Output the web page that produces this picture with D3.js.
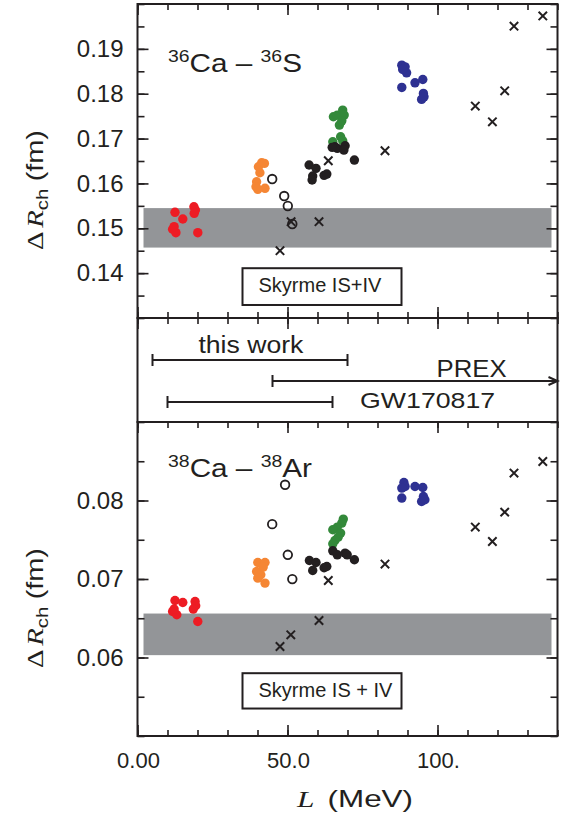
<!DOCTYPE html>
<html>
<head>
<meta charset="utf-8">
<script src="https://cdn.jsdelivr.net/npm/d3@7"></script>
<style>
  body { margin: 0; background: #fff; }
  svg { display: block; }
</style>
</head>
<body>
<div id="chart"></div>
<script>
// ---- data : [L (MeV), dRch (fm)] ----
// 36Ca - 36S
const ca36Red    = [[12.5,0.15356],[15.1,0.15207],[18.8,0.15481],[19.3,0.15408],[18.9,0.15334],[11.7,0.14978],[12.8,0.14902],[12.2,0.15036],[20.1,0.14902]];
const ca36Orange = [[41.4,0.16461],[40.3,0.16372],[42.3,0.16447],[40.8,0.16238],[39.7,0.16038],[39.5,0.15927],[42.5,0.15891],[40.1,0.15869]];
const ca36Open   = [[44.9,0.16098],[48.9,0.15719],[50.1,0.15497],[51.6,0.15096]];
const ca36Cross  = [[47.5,0.14501],[51.2,0.15147],[60.5,0.15147],[63.6,0.16506],[82.5,0.16728],[112.6,0.17724],[118.3,0.17374],[122.4,0.18065],[125.5,0.19506],[135.1,0.19735]];
const ca36Black  = [[57.2,0.16410],[59.5,0.16336],[58.4,0.16165],[58.2,0.16076],[62.2,0.16180],[63.1,0.16209],[65.8,0.16817],[66.6,0.16782],[69.2,0.16840],[68.8,0.16744],[64.9,0.16804],[72.3,0.16521]];
const ca36Green  = [[65.3,0.17486],[66.6,0.17523],[68.4,0.17635],[68.9,0.17523],[67.3,0.17301],[68.1,0.17396],[65.1,0.16929],[67.7,0.17040],[68.4,0.16951]];
const ca36Blue   = [[88.1,0.18637],[89.2,0.18599],[89.7,0.18465],[88.4,0.18541],[88.1,0.18140],[92.5,0.18243],[95.1,0.18318],[95.3,0.18007],[94.7,0.17873],[95.5,0.17931]];

// 38Ca - 38Ar
const ca38Red    = [[12.5,0.06726],[15.1,0.06701],[19.2,0.06713],[19.4,0.06659],[18.6,0.06617],[11.7,0.06586],[13.1,0.06544],[12.2,0.06617],[20.1,0.06459]];
const ca38Orange = [[40.1,0.07210],[42.5,0.07210],[41.9,0.07152],[39.7,0.07096],[41.1,0.07054],[40.1,0.07011],[42.5,0.06948]];
const ca38Open   = [[49.2,0.08200],[44.9,0.07699],[50.1,0.07308],[51.6,0.06999]];
const ca38Cross  = [[47.5,0.06140],[51.1,0.06289],[60.5,0.06471],[63.6,0.06981],[82.5,0.07190],[112.6,0.07661],[118.3,0.07478],[122.4,0.07852],[125.5,0.08349],[135.1,0.08497]];
const ca38Black  = [[57.3,0.07236],[59.5,0.07210],[58.4,0.07108],[62.2,0.07143],[63.1,0.07159],[65.1,0.07359],[66.6,0.07308],[69.2,0.07330],[69.9,0.07308],[72.3,0.07245]];
const ca38Green  = [[68.6,0.07763],[68.1,0.07712],[66.6,0.07661],[65.1,0.07627],[67.7,0.07585],[66.9,0.07534],[65.8,0.07490],[65.1,0.07448]];
const ca38Blue   = [[88.8,0.08229],[89.2,0.08178],[88.1,0.08158],[92.5,0.08178],[95.1,0.08166],[88.1,0.08031],[95.3,0.08051],[94.7,0.07987],[95.8,0.08009]];

// Skyrme IS+IV band [low, high] and L extent
const bandL   = [2, 138];
const bandTop = [0.1457, 0.1545];
const bandBot = [0.0603, 0.0656];

// L constraints (middle panel)
const constraintNames = ["this work", "PREX", "GW170817"];
const constraintRange = [[5, 70], [45, 140], [10, 65]];

const xTickValues = [0, 50, 100];
const xTickLabels = ["0.00", "50.0", "100."];
const yTopTicks = [0.14, 0.15, 0.16, 0.17, 0.18, 0.19];
const yBotTicks = [0.06, 0.07, 0.08];

const colors = { red: "#ed1c24", orange: "#f58634", green: "#33893a", blue: "#2e3192", black: "#231f20" };
const ink = "#231f20";
const sans = "'Liberation Sans', Arial, Helvetica, sans-serif";
const serif = "'Liberation Serif', 'Times New Roman', serif";

// ---- layout ----
const width = 565, height = 824;
const x = d3.scaleLinear().domain([0, 140]).range([137.5, 557.5]);
const yTop = d3.scaleLinear().domain([0.13, 0.20]).range([318, 4]);
const yBot = d3.scaleLinear().domain([0.05, 0.09]).range([736, 422]);
const rows = d3.scalePoint().domain(constraintNames).range([360, 402]);

const svg = d3.select("#chart").append("svg")
    .attr("width", width)
    .attr("height", height)
    .style("font-family", sans);

// grey bands
function band(y, range) {
    svg.append("rect")
        .attr("x", x(bandL[0]))
        .attr("width", x(bandL[1]) - x(bandL[0]))
        .attr("y", y(range[1]))
        .attr("height", y(range[0]) - y(range[1]))
        .attr("fill", "#939598");
}
band(yTop, bandTop);
band(yBot, bandBot);

// ticks helpers
function xTicks(yPos, dir) {
    const mk = dir > 0 ? d3.axisBottom : d3.axisTop;
    [[d3.range(0, 141, 10), 6], [xTickValues, 11]].forEach(([vals, len]) => {
        svg.append("g")
            .attr("transform", `translate(0,${yPos})`)
            .call(mk(x).tickValues(vals).tickSize(len).tickFormat(""))
            .call(g => g.select(".domain").remove())
            .call(g => g.selectAll("line").attr("stroke", ink).attr("stroke-width", 1.6));
    });
}
function yTicks(y, major) {
    const lo = y.domain()[0], hi = y.domain()[1];
    const minor = d3.range(Math.round(lo * 1000), Math.round(hi * 1000) + 1, 5).map(d => d / 1000);
    [[minor, 7], [major, 11]].forEach(([vals, len]) => {
        svg.append("g")
            .attr("transform", `translate(${x(0)},0)`)
            .call(d3.axisRight(y).tickValues(vals).tickSize(len).tickFormat(""))
            .call(g => g.select(".domain").remove())
            .call(g => g.selectAll("line").attr("stroke", ink).attr("stroke-width", 1.6));
        svg.append("g")
            .attr("transform", `translate(${x(140)},0)`)
            .call(d3.axisLeft(y).tickValues(vals).tickSize(len).tickFormat(""))
            .call(g => g.select(".domain").remove())
            .call(g => g.selectAll("line").attr("stroke", ink).attr("stroke-width", 1.6));
    });
    // labels
    svg.append("g")
        .attr("transform", `translate(${x(0)},0)`)
        .call(d3.axisLeft(y).tickValues(major).tickSize(0).tickPadding(14).tickFormat(d3.format(".2f")))
        .call(g => g.select(".domain").remove())
        .call(g => g.selectAll("text").attr("font-family", sans).attr("font-size", 24).attr("fill", ink));
}

xTicks(yTop.range()[1], 1);
xTicks(yTop.range()[0], -1);
xTicks(yTop.range()[0], 1);
xTicks(yBot.range()[1], 1);
xTicks(yBot.range()[0], -1);
yTicks(yTop, yTopTicks);
yTicks(yBot, yBotTicks);

// frames
[[yTop.range()[1], yTop.range()[0]], [yTop.range()[0], yBot.range()[1]], [yBot.range()[1], yBot.range()[0]]]
    .forEach(([t, b]) => {
        svg.append("rect")
            .attr("x", x(0)).attr("y", t)
            .attr("width", x(140) - x(0)).attr("height", b - t)
            .attr("fill", "none").attr("stroke", ink).attr("stroke-width", 2);
    });

// x tick labels
svg.append("g").selectAll("text")
    .data(xTickValues)
    .join("text")
    .attr("x", d => x(d) + 1)
    .attr("y", 768)
    .attr("text-anchor", "middle")
    .attr("font-size", 22)
    .attr("fill", ink)
    .text((d, i) => xTickLabels[i]);

// x axis title
const xt = svg.append("text")
    .attr("x", 297).attr("y", 807)
    .attr("font-size", 24).attr("fill", ink)
    .attr("textLength", 116).attr("lengthAdjust", "spacingAndGlyphs");
xt.append("tspan").attr("font-family", serif).attr("font-style", "italic").text("L");
xt.append("tspan").attr("dx", 10).text("(MeV)");

// y axis titles
function yTitle(cy) {
    const t = svg.append("text")
        .attr("transform", `translate(43,${cy}) rotate(-90)`)
        .attr("text-anchor", "middle")
        .attr("font-size", 24).attr("fill", ink)
        .attr("textLength", 120).attr("lengthAdjust", "spacingAndGlyphs");
    t.append("tspan").attr("font-family", serif).text("\u0394");
    t.append("tspan").attr("font-family", serif).attr("font-style", "italic").attr("dx", 3).text("R");
    t.append("tspan").attr("font-size", 17).attr("dy", 5).text("ch");
    t.append("tspan").attr("dy", -5).attr("dx", 6).text("(fm)");
}
yTitle(190);
yTitle(608);

// panel titles
function panelTitle(yBase, mass, a, b, len) {
    const t = svg.append("text")
        .attr("x", 168).attr("y", yBase)
        .attr("fill", ink)
        .attr("textLength", len).attr("lengthAdjust", "spacingAndGlyphs");
    t.append("tspan").attr("font-size", 17).attr("dy", -10).text(mass);
    t.append("tspan").attr("font-size", 26).attr("dy", 10).text(a + " \u2013 ");
    t.append("tspan").attr("font-size", 17).attr("dy", -10).text(mass);
    t.append("tspan").attr("font-size", 26).attr("dy", 10).text(b);
}
panelTitle(72, "36", "Ca", "S", 134);
panelTitle(477, "38", "Ca", "Ar", 144);

// Skyrme boxes
function skyrmeBox(y, lo, hi, label) {
    const top = y(hi), bot = y(lo);
    svg.append("rect")
        .attr("x", x(35)).attr("y", top)
        .attr("width", x(88) - x(35)).attr("height", bot - top)
        .attr("fill", "#fff").attr("stroke", ink).attr("stroke-width", 2);
    svg.append("text")
        .attr("x", x(35) + 16).attr("y", top + 24)
        .attr("font-size", 20).attr("fill", ink)
        .text(label);
}
skyrmeBox(yTop, 0.1329, 0.1411, "Skyrme IS+IV");
skyrmeBox(yBot, 0.0535, 0.0580, "Skyrme IS + IV");

// scatter markers
function dots(y, data, color) {
    svg.append("g").selectAll("circle")
        .data(data)
        .join("circle")
        .attr("cx", d => x(d[0]))
        .attr("cy", d => y(d[1]))
        .attr("r", 4.7)
        .attr("fill", color);
}
function rings(y, data) {
    svg.append("g").selectAll("circle")
        .data(data)
        .join("circle")
        .attr("cx", d => x(d[0]))
        .attr("cy", d => y(d[1]))
        .attr("r", 4.3)
        .attr("fill", "none")
        .attr("stroke", ink)
        .attr("stroke-width", 1.8);
}
function crosses(y, data) {
    svg.append("g").selectAll("path")
        .data(data)
        .join("path")
        .attr("d", d => {
            const cx = x(d[0]), cy = y(d[1]), s = 4.2;
            return `M${cx - s},${cy - s}L${cx + s},${cy + s}M${cx - s},${cy + s}L${cx + s},${cy - s}`;
        })
        .attr("stroke", ink)
        .attr("stroke-width", 2);
}

dots(yTop, ca36Red, colors.red);
dots(yTop, ca36Orange, colors.orange);
dots(yTop, ca36Green, colors.green);
dots(yTop, ca36Black, colors.black);
dots(yTop, ca36Blue, colors.blue);
rings(yTop, ca36Open);
crosses(yTop, ca36Cross);

dots(yBot, ca38Red, colors.red);
dots(yBot, ca38Orange, colors.orange);
dots(yBot, ca38Green, colors.green);
dots(yBot, ca38Black, colors.black);
dots(yBot, ca38Blue, colors.blue);
rings(yBot, ca38Open);
crosses(yBot, ca38Cross);

// middle panel: L constraints
constraintNames.forEach((name, i) => {
    const [a, b] = constraintRange[i];
    const yy = rows(name);
    const g = svg.append("g").attr("stroke", ink).attr("stroke-width", 2).attr("fill", "none");
    g.append("line").attr("x1", x(a)).attr("x2", x(b)).attr("y1", yy).attr("y2", yy);
    g.append("line").attr("x1", x(a)).attr("x2", x(a)).attr("y1", yy - 6).attr("y2", yy + 6);
    if (b >= 140) {
        g.append("path").attr("d", `M${x(b) - 9},${yy - 4}L${x(b)},${yy}L${x(b) - 9},${yy + 4}`);
    } else {
        g.append("line").attr("x1", x(b)).attr("x2", x(b)).attr("y1", yy - 6).attr("y2", yy + 6);
    }
});

svg.append("text")
    .attr("x", x(20.3)).attr("y", rows("this work") - 7)
    .attr("font-size", 23).attr("fill", ink)
    .attr("textLength", 105).attr("lengthAdjust", "spacingAndGlyphs")
    .text("this  work");
svg.append("text")
    .attr("x", x(99.7)).attr("y", rows("PREX") - 4)
    .attr("font-size", 23).attr("fill", ink)
    .attr("textLength", 70).attr("lengthAdjust", "spacingAndGlyphs")
    .text("PREX");
svg.append("text")
    .attr("x", x(74.2)).attr("y", rows("GW170817") + 6)
    .attr("font-size", 22).attr("fill", ink)
    .attr("textLength", 135).attr("lengthAdjust", "spacingAndGlyphs")
    .text("GW170817");
</script>
</body>
</html>
